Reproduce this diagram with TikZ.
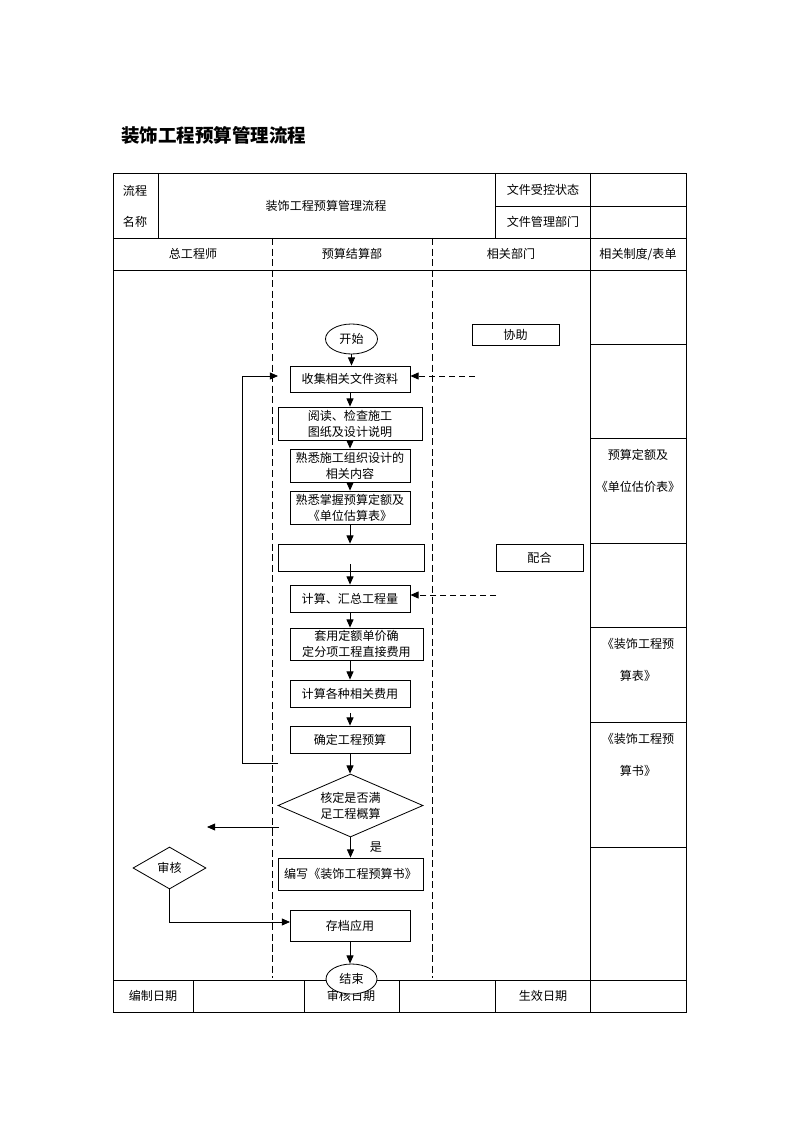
\documentclass[tikz,border=0pt]{standalone}
\usepackage{fontspec}
\setmainfont{Noto Sans CJK SC}
\usetikzlibrary{arrows.meta,shapes.geometric}
\newcommand{\fsz}{\fontsize{10.3pt}{13.6pt}\selectfont}
\newcommand{\fszr}{\fontsize{10.3pt}{27pt}\selectfont}
\begin{document}
\begin{tikzpicture}[x=0.03cm,y=-0.03cm,
  ln/.style={line width=0.7pt},
  sz/.style 2 args={minimum width=#1*0.03cm, minimum height=#2*0.03cm},
  box/.style={draw, line width=0.7pt, inner sep=0pt, align=center, font=\fsz},
  txt/.style={inner sep=0pt, align=center, font=\fsz},
  rtxt/.style={inner sep=0pt, align=center, font=\fszr},
  arr/.style={-{Triangle[length=7pt,width=6pt]}, line width=0.7pt},
  dsh/.style={dash pattern=on 5pt off 3.5pt},
  lane/.style={line width=0.6pt, dash pattern=on 6pt off 3pt}]
\path[use as bounding box, fill=white] (0,0) rectangle (800,1132);

% title
\node[anchor=west, inner sep=0pt, font=\bfseries\fontsize{15.8pt}{18pt}\selectfont] (title) at (121,135) {装饰工程预算管理流程};

% table frame
\draw[ln] (113,173) rectangle (686,1012);
\draw[ln] (158,173) -- (158,238);
\draw[ln] (495,173) -- (495,238);
\draw[ln] (590,173) -- (590,1012);
\draw[ln] (495,206) -- (686,206);
\draw[ln] (113,238) -- (686,238);
\draw[ln] (113,270) -- (686,270);
\draw[ln] (113,980) -- (686,980);
\foreach \yy in {344,438,543,627,722,847} \draw[ln] (590,\yy) -- (686,\yy);
\foreach \xx in {193,304,399,495} \draw[ln] (\xx,980) -- (\xx,1012);
\draw[lane] (272,238) -- (272,978);
\draw[lane] (432,238) -- (432,978);

% table texts
\node[txt] (h1) at (135,191) {流程};
\node[txt] (h2) at (135,222) {名称};
\node[txt] (h3) at (326,206) {装饰工程预算管理流程};
\node[txt] (h4) at (543,190) {文件受控状态};
\node[txt] (h5) at (543,222) {文件管理部门};
\node[txt] (c1) at (193,254) {总工程师};
\node[txt] (c2) at (352,254) {预算结算部};
\node[txt] (c3) at (511,254) {相关部门};
\node[txt] (c4) at (638,254) {相关制度/表单};
\node[rtxt] (r1) at (638,471) {预算定额及\\《单位估价表》};
\node[rtxt] (r2) at (638,660) {《装饰工程预\\算表》};
\node[rtxt] (r3) at (638,755) {《装饰工程预\\算书》};
\node[txt] (b1) at (153,996) {编制日期};
\node[txt] (b2) at (351,996) {审核日期};
\node[txt] (b3) at (543,996) {生效日期};

% flow nodes
\node[box, ellipse, sz={52}{30}] (start) at (351.5,339) {开始};
\node[box, sz={87}{21}, text depth=-1pt] (help) at (515.5,334.5) {协助};
\node[box, sz={120}{26}] (n1) at (350,379) {收集相关文件资料};
\node[box, sz={144}{33}] (n2) at (350,423.5) {阅读、检查施工\\图纸及设计说明};
\node[box, sz={120}{33}] (n3) at (350,465.5) {熟悉施工组织设计的\\相关内容};
\node[box, sz={120}{33}] (n4) at (350,507.5) {熟悉掌握预算定额及\\《单位估算表》};
\node[box, sz={146}{27}] (n5) at (351,557.5) {};
\node[box, sz={87}{27}] (coop) at (539.5,557.5) {配合};
\node[box, sz={120}{27}] (n6) at (350,598.5) {计算、汇总工程量};
\node[box, sz={133}{32}] (n7) at (356.5,644) {套用定额单价确\\定分项工程直接费用};
\node[box, sz={120}{27}] (n8) at (350,693.5) {计算各种相关费用};
\node[box, sz={120}{27}] (n9) at (350,739.5) {确定工程预算};
\node[box, diamond, aspect=2.34, sz={145}{63}] (d1) at (350.5,805.5) {核定是否满\\足工程概算};
\node[txt] (yes) at (376,847) {是};
\node[box, sz={145}{32}] (n10) at (350.5,874) {编写《装饰工程预算书》};
\node[box, diamond, aspect=1.74, sz={73}{42}] (d2) at (169.5,868) {审核};
\node[box, sz={120}{31}] (n11) at (350,925.5) {存档应用};
\node[box, ellipse, fill=white, sz={51}{30}] (end) at (351.5,979) {结束};

% connectors
\draw[arr] (start.south) -- (start.south |- n1.north);
\coordinate (hc) at (475,376);
\draw[arr,dsh] (hc) -- (hc -| n1.east);
\draw[arr] (n1) -- (n2);
\draw[arr] (n2) -- (n3);
\draw[arr] (n3) -- (n4);
\draw[arr] (n4.south) -- (n4.south |- n5.north);
\coordinate (e1) at (350,564);
\draw[arr] (e1) -- (n6.north);
\coordinate (cc) at (496,595);
\draw[arr,dsh] (cc) -- (cc -| n6.east);
\draw[arr] (n6.south) -- (n6.south |- n7.north);
\draw[arr] (n7.south -| n8.north) -- (n8.north);
\draw[arr] ([yshift=-0.18cm]n8.south) -- (n9.north);
\draw[arr] (n9.south) -- (n9.south |- d1.north);
\coordinate (lp1) at (278,763);
\coordinate (lp2) at (278,376);
\draw[arr] (lp1) -- (242,763) -- (242,376) -- (lp2);
\coordinate (la1) at (279,827);
\coordinate (la2) at (207,827);
\draw[arr] (la1) -- (la2);
\draw[arr] (d1.south) -- (n10.north);
\coordinate (sh) at (290,922);
\draw[arr] (d2.south) |- (sh);
\draw[arr] (n11.south) -- (n11.south |- end.north);
\end{tikzpicture}
\end{document}
